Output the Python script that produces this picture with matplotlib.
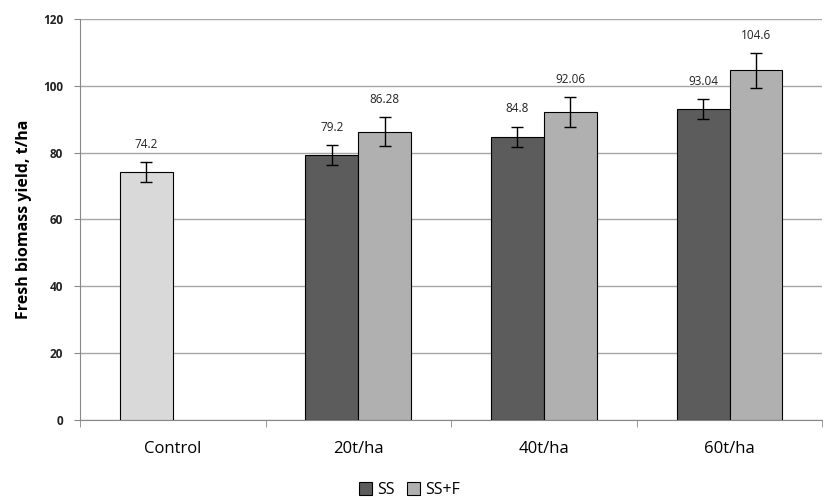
import numpy as np
import matplotlib.pyplot as plt

plt.rcParams['font.family'] = ['Open Sans', 'DejaVu Sans']

categories = ['Control', '20t/ha', '40t/ha', '60t/ha']
control_val = 74.2
control_err = 3.0
ss_vals = [79.2, 84.8, 93.04]
ss_err = [3.0, 3.0, 3.0]
ssf_vals = [86.28, 92.06, 104.6]
ssf_err = [4.3, 4.5, 5.2]
value_labels_ss = ['79.2', '84.8', '93.04']
value_labels_ssf = ['86.28', '92.06', '104.6']

fig = plt.figure(figsize=(8.24, 5), dpi=100)
ax = fig.add_axes([0.097, 0.16, 0.901, 0.802])

w = 0.285
x = np.arange(1, 4)
ekw = dict(elinewidth=1, capthick=1, ecolor='black')

ax.bar(0 - w/2, control_val, w, yerr=control_err, capsize=4, color='#d9d9d9',
       edgecolor='black', linewidth=0.8, error_kw=ekw, zorder=3)
ax.bar(x - w/2, ss_vals, w, yerr=ss_err, capsize=4, color='#5c5c5c',
       edgecolor='black', linewidth=0.8, error_kw=ekw, zorder=3, label='SS')
ax.bar(x + w/2, ssf_vals, w, yerr=ssf_err, capsize=4, color='#b0b0b0',
       edgecolor='black', linewidth=0.8, error_kw=ekw, zorder=3, label='SS+F')

lab_kw = dict(textcoords='offset points', ha='center', va='bottom', fontsize=8.5, color='#222222')
ax.annotate('74.2', (0 - w/2, control_val + control_err), xytext=(0, 8), **lab_kw)
for xi, v, e, t in zip(x - w/2, ss_vals, ss_err, value_labels_ss):
    ax.annotate(t, (xi, v + e), xytext=(0, 8), **lab_kw)
for xi, v, e, t in zip(x + w/2, ssf_vals, ssf_err, value_labels_ssf):
    ax.annotate(t, (xi, v + e), xytext=(0, 8), **lab_kw)

ax.set_xlim(-0.5, 3.5)
ax.set_ylim(0, 120)
ax.set_yticks(np.arange(0, 121, 20))
ax.yaxis.grid(True, color='#a6a6a6', linewidth=1, zorder=0)
ax.set_axisbelow(True)

ax.set_xticks(np.arange(4))
ax.set_xticklabels(categories, fontsize=12)
ax.set_xticks(np.arange(-0.5, 3.6, 1), minor=True)
ax.tick_params(axis='x', which='major', length=0, pad=15)
ax.tick_params(axis='x', which='minor', length=5, color='#888888')
ax.tick_params(axis='y', length=4, color='#888888', labelsize=8.5, pad=8)
for lbl in ax.get_yticklabels():
    lbl.set_fontweight('bold')
    lbl.set_color('#222222')

for s in ['top', 'right']:
    ax.spines[s].set_visible(False)
ax.spines['left'].set_color('#888888')
ax.spines['bottom'].set_color('#888888')

ax.set_ylabel('Fresh biomass yield, t/ha', fontsize=11.5, fontweight='bold', labelpad=8)

fig.legend(loc='lower center', bbox_to_anchor=(0.497, -0.025), ncol=2, frameon=False,
           fontsize=11.5, handlelength=0.8, handleheight=0.8, handletextpad=0.3,
           columnspacing=0.8)

plt.savefig('out.png')
